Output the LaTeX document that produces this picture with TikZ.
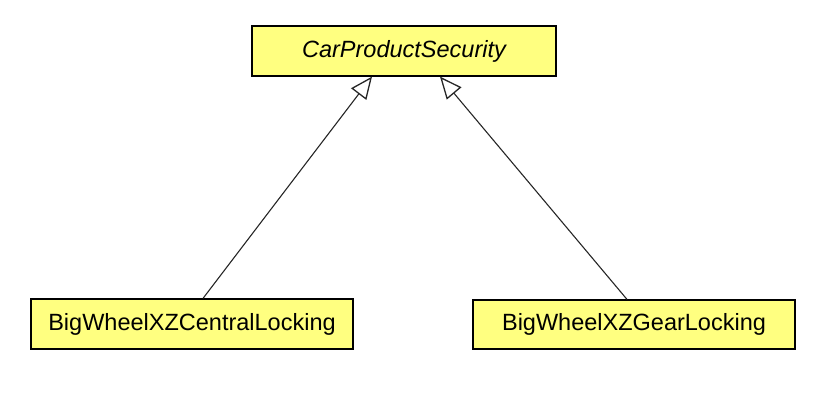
\documentclass[tikz,border=0pt]{standalone}
\usepackage{fontspec}
\setmainfont{Liberation Sans}
\usetikzlibrary{arrows.meta}
\definecolor{classfill}{RGB}{255,255,128}
\tikzset{
  classbox/.style={draw=black, line width=1.2pt, fill=classfill, inner sep=0pt, font=\fontsize{23.5}{26}\selectfont},
  inh/.style={draw=black!85, line width=1.1pt, -{Triangle[open, length=22pt, width=19pt, line width=1.3pt]}}
}
\begin{document}
\begin{tikzpicture}[x=1pt,y=-1pt]
\useasboundingbox (0,0) rectangle (840,405);
\node[classbox, minimum width=304pt, minimum height=50pt] (t) at (404,51) {\itshape CarProductSecurity};
\node[classbox, minimum width=322pt, minimum height=50pt] (l) at (192,324) {BigWheelXZCentralLocking};
\node[classbox, minimum width=322pt, minimum height=49pt] (r) at (634,324.5) {BigWheelXZGearLocking};
\draw[inh] ([xshift=11pt]l.north) -- ([xshift=-32pt]t.south);
\draw[inh] ([xshift=-7pt]r.north) -- ([xshift=36pt]t.south);
\end{tikzpicture}
\end{document}
